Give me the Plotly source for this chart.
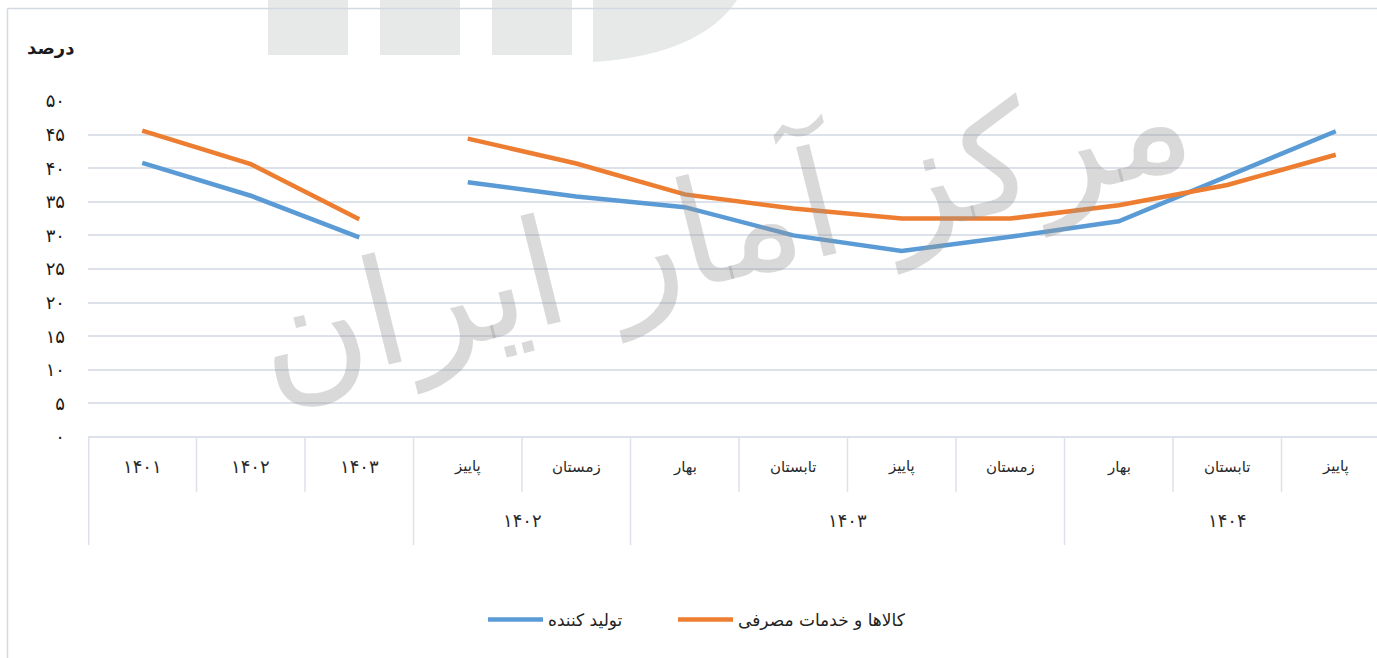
import plotly.graph_objects as go

# ---------------- data ----------------
periods = ["۱۴۰۱", "۱۴۰۲", "۱۴۰۳",
           "پاییز", "زمستان",
           "بهار", "تابستان", "پاییز", "زمستان",
           "بهار", "تابستان", "پاییز"]
groups = ["", "", "",
          "۱۴۰۲", "۱۴۰۲",
          "۱۴۰۳", "۱۴۰۳", "۱۴۰۳", "۱۴۰۳",
          "۱۴۰۴", "۱۴۰۴", "۱۴۰۴"]
producer = [40.8, 35.9, 29.7, 37.9, 35.8, 34.2, 30.0, 27.7, 29.8, 32.1, 38.8, 45.5]
consumer = [45.6, 40.6, 32.4, 44.4, 40.7, 36.1, 34.0, 32.5, 32.5, 34.5, 37.5, 42.0]
series_names = ["تولید کننده", "کالاها و خدمات مصرفی"]
y_ticks = [0, 5, 10, 15, 20, 25, 30, 35, 40, 45, 50]
y_ticktext = ["۰", "۵", "۱۰", "۱۵", "۲۰", "۲۵", "۳۰", "۳۵", "۴۰", "۴۵", "۵۰"]
y_title = "درصد"
segments = [(0, 3), (3, 12)]  # annual block, quarterly block (line breaks between)

# ---------------- styling / geometry ----------------
W, H = 1377, 658
ML, MR, MT, MB = 88, 0, 101, 221
PW, PH = W - ML - MR, H - MT - MB
colors = ["#5B9BD5", "#ED7D31"]
legend_ids = ["legend", "legend2"]
legend_px = [483, 673]
grid_col = "#DDE2EA"
FONT = "DejaVu Sans"
PERSIAN_DIGITS = set("۰۱۲۳۴۵۶۷۸۹")


def px_x(px):
    return (px - ML) / PW


def px_y(py):
    return (H - MB - py) / PH


def label_size(t):
    return 18 if all(c in PERSIAN_DIGITS for c in t) else 15


keys = [f"{g}|{p}|{i}" for i, (g, p) in enumerate(zip(groups, periods))]

fig = go.Figure()
for name, vals, col, lg in zip(series_names, [producer, consumer], colors, legend_ids):
    for si, (a, b) in enumerate(segments):
        fig.add_trace(go.Scatter(
            x=keys[a:b], y=vals[a:b], mode="lines", name=name,
            legendgroup=name, showlegend=(si == 0), legend=lg,
            line=dict(color=col, width=4.5, shape="linear"),
        ))

# category labels (first row)
for k, p in zip(keys, periods):
    fig.add_annotation(x=k, xref="x", y=px_y(467), yref="paper", text=p,
                       showarrow=False, xanchor="center", yanchor="middle",
                       font=dict(size=label_size(p), color="#2a2a2a", family=FONT))

# dividers
ng = len(groups)
row1_bottom = px_y(492)
row2_bottom = px_y(545)
shapes = [dict(type="line", xref="paper", yref="paper", x0=0.0006, x1=0.0006,
               y0=0, y1=row2_bottom, line=dict(color=grid_col, width=1.5))]
for i in range(1, ng):
    y1 = row2_bottom if groups[i - 1] != groups[i] else row1_bottom
    shapes.append(dict(type="line", xref="x", yref="paper", x0=i - 0.5, x1=i - 0.5,
                       y0=0, y1=y1, line=dict(color=grid_col, width=1.5)))

# group labels (second row)
seen = []
for g in groups:
    if g and g not in seen:
        seen.append(g)
for g in seen:
    idx = [i for i, gg in enumerate(groups) if gg == g]
    fig.add_annotation(x=(idx[0] + idx[-1]) / 2, xref="x", y=px_y(520), yref="paper",
                       text=g, showarrow=False, xanchor="center", yanchor="middle",
                       font=dict(size=label_size(g), color="#2a2a2a", family=FONT))

# light logo blocks at top (cropped watermark)
logo_col = "#E7E8E8"
for x0, x1 in [(268, 348), (380, 460), (492, 572)]:
    shapes.append(dict(type="rect", xref="paper", yref="paper", layer="below",
                       x0=px_x(x0), x1=px_x(x1), y0=px_y(55), y1=px_y(0),
                       fillcolor=logo_col, line=dict(width=0)))
path = "M {:.4f},{:.4f} L {:.4f},{:.4f} Q {:.4f},{:.4f} {:.4f},{:.4f} Z".format(
    px_x(593), px_y(0), px_x(593), px_y(62), px_x(700), px_y(55), px_x(737), px_y(0))
shapes.append(dict(type="path", xref="paper", yref="paper", layer="below", path=path,
                   fillcolor=logo_col, line=dict(width=0)))

# outer chart frame (left + top)
shapes.append(dict(type="line", xref="paper", yref="paper", x0=px_x(7.5), x1=px_x(7.5),
                   y0=px_y(H), y1=px_y(8.5), line=dict(color="#D3D9E3", width=1.5)))
shapes.append(dict(type="line", xref="paper", yref="paper", x0=px_x(7.5), x1=px_x(W),
                   y0=px_y(8.5), y1=px_y(8.5), line=dict(color="#D3D9E3", width=1.5)))

fig.update_layout(shapes=shapes)

# watermark
fig.add_annotation(x=px_x(722), y=px_y(228), xref="paper", yref="paper",
                   text="مرکز آمار ایران", showarrow=False, textangle=-14,
                   xanchor="center", yanchor="middle",
                   font=dict(size=148, color="rgba(150,150,150,0.36)", family=FONT))

# y title
fig.add_annotation(x=px_x(50), y=px_y(48), xref="paper", yref="paper",
                   text="<b>" + y_title + "</b>", xanchor="center", yanchor="middle",
                   showarrow=False, font=dict(size=18, color="#1a1a1a", family=FONT))

legend_style = dict(orientation="h", xanchor="left", y=px_y(620), yanchor="middle",
                    font=dict(size=17, color="#222222", family=FONT),
                    itemwidth=55, bgcolor="rgba(0,0,0,0)")

fig.update_layout(
    width=W, height=H,
    margin=dict(l=ML, r=MR, t=MT, b=MB),
    paper_bgcolor="white", plot_bgcolor="white",
    font=dict(family=FONT),
    xaxis=dict(type="category", categoryorder="array", categoryarray=keys,
               range=[-0.5, -0.5 + PW / 108.5], showticklabels=False,
               showgrid=False, zeroline=False, showline=False, ticks=""),
    yaxis=dict(range=[0, 50], tickvals=y_ticks, ticktext=y_ticktext,
               showgrid=True, gridcolor=grid_col, gridwidth=1.5,
               zeroline=True, zerolinecolor=grid_col, zerolinewidth=1.5,
               showline=False, ticks="", ticklabelstandoff=22,
               tickfont=dict(size=18, color="#1a1a1a", family=FONT)),
    legend=dict(x=px_x(legend_px[0]), **legend_style),
    legend2=dict(x=px_x(legend_px[1]), **legend_style),
    showlegend=True,
)

fig.write_html("out.html", config={"displayModeBar": False},
               post_script="document.body.style.margin='0';")
